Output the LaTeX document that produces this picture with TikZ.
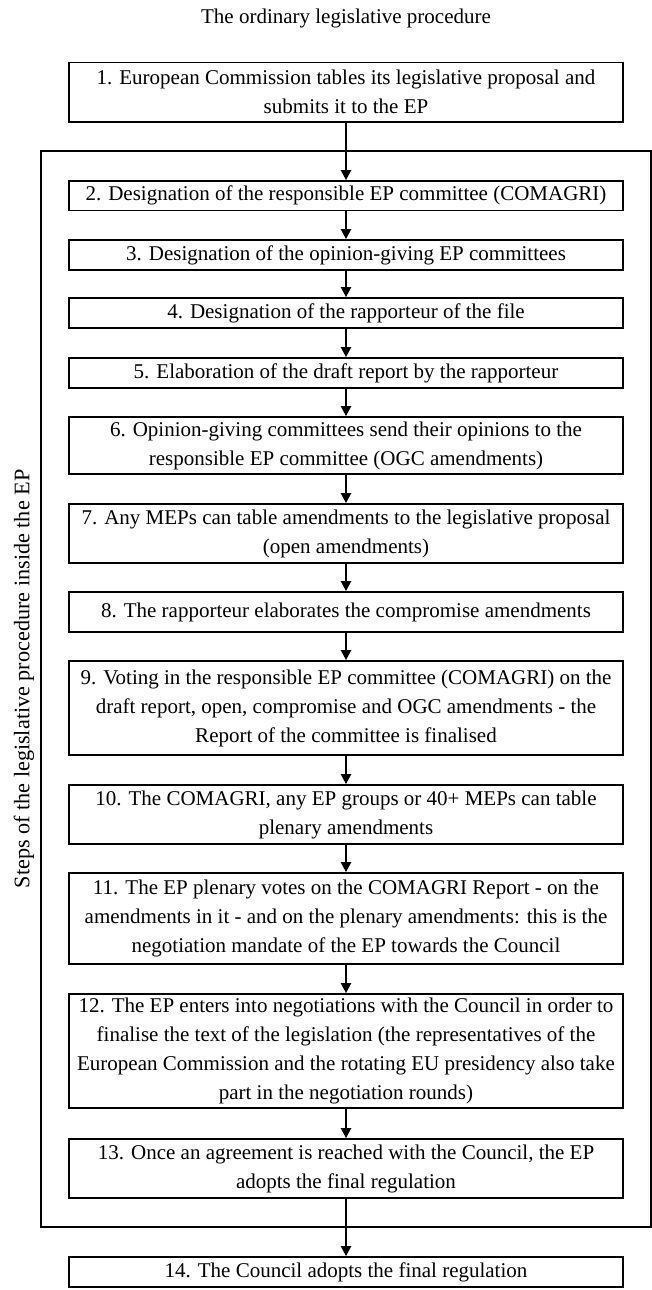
\documentclass[tikz,border=0pt]{standalone}
\usepackage{fontspec}
\setmainfont{Liberation Serif}
\usetikzlibrary{arrows.meta}
\begin{document}
\begin{tikzpicture}[x=1pt,y=-1pt,
  stepbox/.style={draw, line width=1.7pt, minimum width=554pt, inner sep=0pt, align=center,
    font=\fontsize{21}{29}\selectfont},
  framebox/.style={draw, line width=2.2pt, inner sep=0pt},
  arr/.style={line width=2.2pt, -{Triangle[length=10pt,width=10pt]}},
  lbl/.style={font=\fontsize{21}{29}\selectfont, inner sep=0pt}]
\useasboundingbox (0,0) rectangle (652,1290);
\node[lbl] (title) at (346,18) {The ordinary legislative procedure};
\node[framebox, minimum width=610pt, minimum height=1076pt] (frame) at (346,689) {};
\node[lbl, font=\fontsize{22.2}{29}\selectfont, rotate=90] (side) at (24,679) {Steps of the legislative procedure inside the EP};
\node[stepbox, minimum height=59.5pt] (b1) at (346,92.25) {1. European Commission tables its legislative proposal and\\submits it to the EP};
\node[stepbox, minimum height=29.5pt] (b2) at (346,195.75) {2. Designation of the responsible EP committee (COMAGRI)};
\node[stepbox, minimum height=30pt] (b3) at (346,255) {3. Designation of the opinion-giving EP committees};
\node[stepbox, minimum height=30pt] (b4) at (346,313) {4. Designation of the rapporteur of the file};
\node[stepbox, minimum height=30pt] (b5) at (346,373) {5. Elaboration of the draft report by the rapporteur};
\node[stepbox, minimum height=57pt] (b6) at (346,445.5) {6. Opinion-giving committees send their opinions to the\\responsible EP committee (OGC amendments)};
\node[stepbox, minimum height=59pt] (b7) at (346,533.5) {7. Any MEPs can table amendments to the legislative proposal\\(open amendments)};
\node[stepbox, minimum height=40pt] (b8) at (346,612) {8. The rapporteur elaborates the compromise amendments};
\node[stepbox, minimum height=94pt] (b9) at (346,708) {9. Voting in the responsible EP committee (COMAGRI) on the\\draft report, open, compromise and OGC amendments - the\\Report of the committee is finalised};
\node[stepbox, minimum height=59pt] (b10) at (346,814.5) {10. The COMAGRI, any EP groups or 40+ MEPs can table\\plenary amendments};
\node[stepbox, minimum height=91pt] (b11) at (346,918.5) {11. The EP plenary votes on the COMAGRI Report - on the\\amendments in it - and on the plenary amendments: this is the\\negotiation mandate of the EP towards the Council};
\node[stepbox, minimum height=114pt] (b12) at (346,1051) {12. The EP enters into negotiations with the Council in order to\\finalise the text of the legislation (the representatives of the\\European Commission and the rotating EU presidency also take\\part in the negotiation rounds)};
\node[stepbox, minimum height=59pt] (b13) at (346,1168.5) {13. Once an agreement is reached with the Council, the EP\\adopts the final regulation};
\node[stepbox, minimum height=30pt] (b14) at (346,1272) {14. The Council adopts the final regulation};
\foreach \a/\b in {b1/b2,b2/b3,b3/b4,b4/b5,b5/b6,b6/b7,b7/b8,b8/b9,b9/b10,b10/b11,b11/b12,b12/b13,b13/b14}
  \draw[arr] (\a) -- (\b);
\end{tikzpicture}
\end{document}
